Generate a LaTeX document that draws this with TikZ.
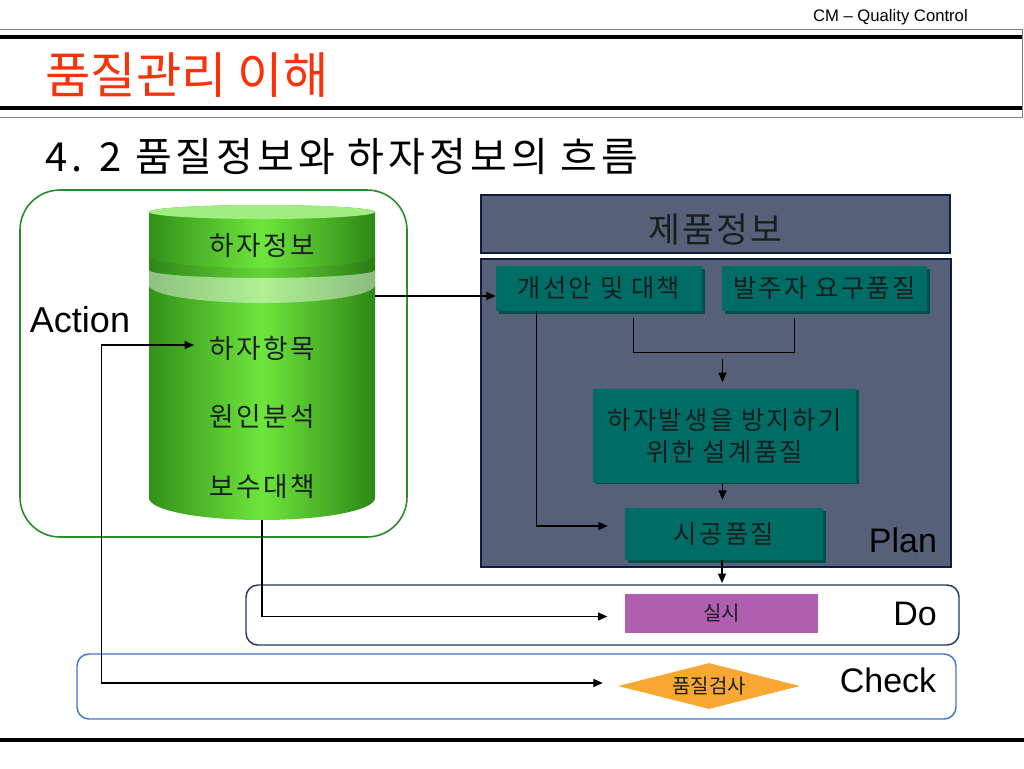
\documentclass[tikz,border=0pt]{standalone}
\usepackage{fontspec}
\setmainfont{Liberation Sans}
\newfontfamily\kr{Noto Sans CJK KR}
\newfontfamily\krsp[LetterSpace=9]{Noto Sans CJK KR}
\newfontfamily\krsw[LetterSpace=6]{Noto Sans CJK KR}
\newfontfamily\krsub[LetterSpace=10]{Noto Sans CJK KR}
\usetikzlibrary{arrows.meta,shapes.geometric,calc}
\definecolor{planfill}{RGB}{86,96,120}
\definecolor{navy}{RGB}{14,30,60}
\definecolor{tealbox}{RGB}{0,108,102}
\definecolor{tealshadow}{RGB}{0,80,76}
\definecolor{actgreen}{RGB}{40,140,40}
\definecolor{donavy}{RGB}{31,58,95}
\definecolor{chkblue}{RGB}{70,116,208}
\definecolor{silsifill}{RGB}{176,95,176}
\definecolor{pumfill}{RGB}{248,168,50}
\definecolor{titlered}{RGB}{250,50,10}
\definecolor{cylL}{RGB}{50,145,25}
\definecolor{cylM}{RGB}{110,230,60}
\definecolor{cylR}{RGB}{45,135,22}
\definecolor{cyltop}{RGB}{160,238,130}
\definecolor{txtdark}{RGB}{25,30,30}
\begin{document}
\begin{tikzpicture}[x=0.75pt,y=-0.75pt,
  arr/.style={-{Triangle[length=7pt,width=6pt]}, line width=0.8pt},
  arrboth/.style={{Triangle[length=7pt,width=6pt]}-{Triangle[length=7pt,width=6pt]}, line width=0.8pt},
  ln/.style={line width=0.8pt},
  tbox/.style={rectangle, fill=tealbox, draw=none, text=txtdark, inner sep=0pt,
    font=\krsp\fontsize{19}{24}\selectfont, align=center},
  planrect/.style={rectangle, fill=planfill, draw=navy, line width=2.2pt, inner sep=0pt},
  cyltext/.style={font=\krsp\fontsize{20}{24}\selectfont, text=txtdark, inner sep=0pt},
  pdca/.style={font=\fontsize{25.5}{30}\selectfont, text=black, inner sep=0pt},
]
\useasboundingbox (0,0) rectangle (1024,768);
\fill[white] (0,0) rectangle (1024,768);

% header
\node[anchor=east, font=\fontsize{12.5}{15}\selectfont, inner sep=0pt] (hdr) at (968,17) {CM -- Quality Control};
\draw[gray, line width=0.75pt] (-2,29) rectangle (1022,117);
\draw[black, line width=3pt] (0,37) -- (1022,37);
\draw[black, line width=3pt] (0,108) -- (1022,108);
\node[anchor=west, font=\kr\fontsize{37}{42}\selectfont, text=titlered, inner sep=0pt] (title) at (45,75) {품질관리 이해};
\node[anchor=west, font=\krsub\fontsize{30}{35}\selectfont, inner sep=0pt] (subtitle) at (45,157) {4. 2 품질정보와 하자정보의 흐름};

% Action box
\node[rectangle, rounded corners=30pt, draw=actgreen, line width=1.2pt, minimum width=290.25pt, minimum height=260.25pt] (actionbox) at (213.5,363.5) {};
\node[pdca, font=\fontsize{27}{32}\selectfont] (action) at (80,320) {Action};

% cylinder
\shade[left color=cylL, right color=cylR, middle color=cylM]
  (149,212) -- (149,498) arc[start angle=180, end angle=0, x radius=113, y radius=22] -- (375,212) arc[start angle=0, end angle=-180, x radius=113, y radius=7] -- cycle;
\fill[cyltop] (262,212) ellipse[x radius=113, y radius=7];
\fill[black, opacity=0.07] (149,256) arc[start angle=180, end angle=0, x radius=113, y radius=12] -- (375,270) arc[start angle=0, end angle=180, x radius=113, y radius=8] -- cycle;
\fill[white, opacity=0.45] (149,270) arc[start angle=180, end angle=0, x radius=113, y radius=8] -- (375,285) arc[start angle=0, end angle=180, x radius=113, y radius=18] -- cycle;
\coordinate (cylRight) at (375,296);
\coordinate (cylBottom) at (262,520);
\node[cyltext] (cyl1) at (262,246) {하자정보};
\node[cyltext] (cyl2) at (262,348) {하자항목};
\node[cyltext] (cyl3) at (262,417) {원인분석};
\node[cyltext] (cyl4) at (262,487) {보수대책};

% Plan area
\node[planrect, minimum width=351.75pt, minimum height=43.5pt] (jepum) at (715.5,224) {};
\node[font=\krsw\fontsize{26}{30}\selectfont, text=txtdark, inner sep=0pt] (jepumtxt) at (715.5,230) {제품정보};
\node[planrect, minimum width=352.5pt, minimum height=231pt] (planbox) at (716,413) {};
\node[pdca] (plan) at (903,540) {Plan};

\fill[tealshadow] (499,269) rectangle (705,314);
\fill[tealshadow] (725,269) rectangle (930,314);
\fill[tealshadow] (596,390) rectangle (859,484);
\fill[tealshadow] (628,511) rectangle (826,563);
\node[tbox, minimum width=154.5pt, minimum height=33.75pt] (gaeseon) at (599,288.5) {개선안 및 대책};
\node[tbox, minimum width=153.75pt, minimum height=33.75pt] (balju) at (824.5,288.5) {발주자 요구품질};
\node[tbox, minimum width=197.25pt, minimum height=70.5pt] (seolgye) at (724.5,436) {하자발생을 방지하기\\위한 설계품질};
\node[tbox, minimum width=148.5pt, minimum height=39pt] (sigong) at (724,534) {시공품질};

% Do
\node[rectangle, rounded corners=9pt, draw=donavy, line width=1.1pt, minimum width=534.75pt, minimum height=45pt] (dobox) at (602.5,615) {};
\node[rectangle, fill=silsifill, minimum width=144.75pt, minimum height=29.25pt, inner sep=0pt, font=\kr\fontsize{15}{18}\selectfont, text=txtdark] (silsi) at (721.5,613.5) {실시};
\node[pdca] (do) at (915,614) {Do};

% Check
\node[rectangle, rounded corners=9pt, draw=chkblue, line width=1.1pt, minimum width=659.25pt, minimum height=48.75pt] (checkbox) at (516.5,686.5) {};
\node[diamond, shape aspect=4, fill=pumfill, inner sep=0pt, minimum width=136.5pt, minimum height=34.5pt, font=\kr\fontsize{15}{18}\selectfont, text=txtdark] (pumjil) at (709,686) {품질검사};
\node[pdca] (check) at (888,680) {Check};

% connectors
\draw[arr] (cylRight) -- (cylRight -| gaeseon.west);
\draw[arr] ($(gaeseon.south west)+(41,0)$) |- ($(sigong.west)+(-17,-8)$);
\draw[ln] ($(gaeseon.south east)+(-69,7)$) -- ++(0,34) -| ($(balju.south)+(-30,7)$);
\draw[arr, shorten >=5pt] ($(seolgye.north)+(-2,-30)$) -- ($(seolgye.north)+(-2,0)$);
\draw[arr, shorten >=6pt] ($(seolgye.south)+(-2,0)$) -- ($(sigong.north)+(-1.5,0)$);
\draw[arr, shorten >=1pt] ($(sigong.south)+(-2,0)$) -- ($(sigong.south |- dobox.north)+(-2,0)$);
\draw[arr, shorten >=13pt] (cylBottom) |- ($(silsi.west)+(0,3)$);
\draw[arrboth] ($(pumjil.west)+(-15,-3)$) -| ($(cyl2.west)+(-108,-3)$) -- ($(cyl2.west)+(-15,-3)$);

% bottom line
\draw[black, line width=2.4pt] (0,740) -- (1024,740);
\end{tikzpicture}
\end{document}
